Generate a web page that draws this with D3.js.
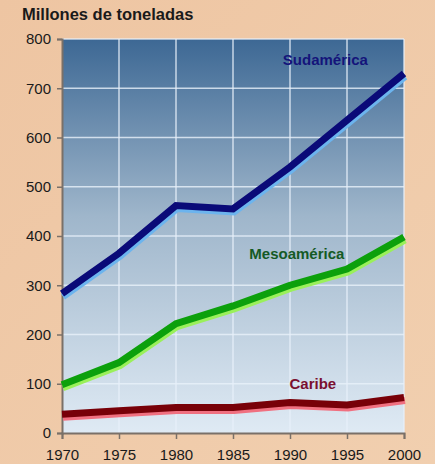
<!DOCTYPE html>
<html>
<head>
<meta charset="utf-8">
<script src="https://cdn.jsdelivr.net/npm/d3@7"></script>
<style>
  body { margin: 0; background: #efc9a7; }
  svg { display: block; font-family: "Liberation Sans", Arial, sans-serif; }
</style>
</head>
<body>
<svg id="chart" width="435" height="464"></svg>
<script>
var years = [1970, 1975, 1980, 1985, 1990, 1995, 2000];
var sudamerica = [283, 365, 462, 455, 540, 635, 730];
var mesoamerica = [98, 143, 222, 258, 300, 333, 398];
var caribe = [38, 45, 52, 52, 62, 57, 72];
var yTicks = [0, 100, 200, 300, 400, 500, 600, 700, 800];

var series = [
    { name: 'Sudamérica', values: sudamerica, dark: '#0a0a78', light: '#6cb4ee', label: '#14147a', lx: 1993.1, ly: 747 },
    { name: 'Mesoamérica', values: mesoamerica, dark: '#0ca00c', light: '#9af05a', label: '#155a25', lx: 1990.6, ly: 353 },
    { name: 'Caribe', values: caribe, dark: '#780008', light: '#f07080', label: '#7a1030', lx: 1992.0, ly: 89 }
];

var svg = d3.select('#chart');
var pLeft = 62, pRight = 404, pTop = 39, pBottom = 433;

var x = d3.scaleLinear().domain([1970, 2000]).range([pLeft, pRight]);
var y = d3.scaleLinear().domain([0, 800]).range([pBottom, pTop]);

var defs = svg.append('defs');
var bg = defs.append('linearGradient').attr('id', 'bg').attr('x1', 0).attr('y1', 0).attr('x2', 1).attr('y2', 1);
bg.append('stop').attr('offset', '0%').attr('stop-color', '#eec5a2');
bg.append('stop').attr('offset', '100%').attr('stop-color', '#f1cfaf');
var pg = defs.append('linearGradient').attr('id', 'plotbg').attr('x1', 0).attr('y1', 0).attr('x2', 0).attr('y2', 1);
pg.append('stop').attr('offset', '0%').attr('stop-color', '#3d6894');
pg.append('stop').attr('offset', '45%').attr('stop-color', '#9fb6cb');
pg.append('stop').attr('offset', '100%').attr('stop-color', '#dfeaf4');

svg.append('rect').attr('width', 435).attr('height', 464).attr('fill', 'url(#bg)');
svg.append('rect')
    .attr('x', pLeft).attr('y', pTop)
    .attr('width', pRight - pLeft).attr('height', pBottom - pTop)
    .attr('fill', 'url(#plotbg)');

// grid
svg.append('g').selectAll('line').data(yTicks.slice(1)).enter().append('line')
    .attr('x1', pLeft).attr('x2', pRight)
    .attr('y1', function (d) { return y(d); })
    .attr('y2', function (d) { return y(d); })
    .attr('stroke', '#e8f1fa').attr('stroke-opacity', 0.8).attr('stroke-width', 1.5);
svg.append('g').selectAll('line').data(years.slice(1)).enter().append('line')
    .attr('x1', function (d) { return x(d); })
    .attr('x2', function (d) { return x(d); })
    .attr('y1', pTop).attr('y2', pBottom)
    .attr('stroke', '#e8f1fa').attr('stroke-opacity', 0.8).attr('stroke-width', 1.5);

// axes
var yAxis = svg.append('g')
    .attr('transform', 'translate(' + pLeft + ',0)')
    .call(d3.axisLeft(y).tickValues(yTicks).tickSize(5).tickPadding(6));
var xAxis = svg.append('g')
    .attr('transform', 'translate(0,' + pBottom + ')')
    .call(d3.axisBottom(x).tickValues(years).tickFormat(d3.format('d')).tickSize(6).tickPadding(10));
[xAxis, yAxis].forEach(function (a) {
    a.select('.domain').attr('stroke', '#7a7068').attr('stroke-width', 2);
    a.selectAll('.tick line').attr('stroke', '#7a7068').attr('stroke-width', 1.5);
    a.selectAll('text').attr('fill', '#1a1a1a').attr('font-size', 15);
});

var line = d3.line()
    .x(function (d, i) { return x(years[i]); })
    .y(function (d) { return y(d); });

series.forEach(function (s) {
    svg.append('path').datum(s.values)
        .attr('d', line)
        .attr('transform', 'translate(1,3)')
        .attr('fill', 'none')
        .attr('stroke', s.light)
        .attr('stroke-width', 7);
    svg.append('path').datum(s.values)
        .attr('d', line)
        .attr('fill', 'none')
        .attr('stroke', s.dark)
        .attr('stroke-width', 7);
    svg.append('text')
        .attr('x', x(s.lx)).attr('y', y(s.ly))
        .attr('text-anchor', 'middle')
        .attr('font-size', 15).attr('font-weight', 'bold')
        .attr('fill', s.label)
        .text(s.name);
});

svg.append('text')
    .attr('x', 22).attr('y', 20)
    .attr('font-size', 16.5).attr('font-weight', 'bold')
    .attr('fill', '#1a1a1a')
    .text('Millones de toneladas');
</script>
</body>
</html>
